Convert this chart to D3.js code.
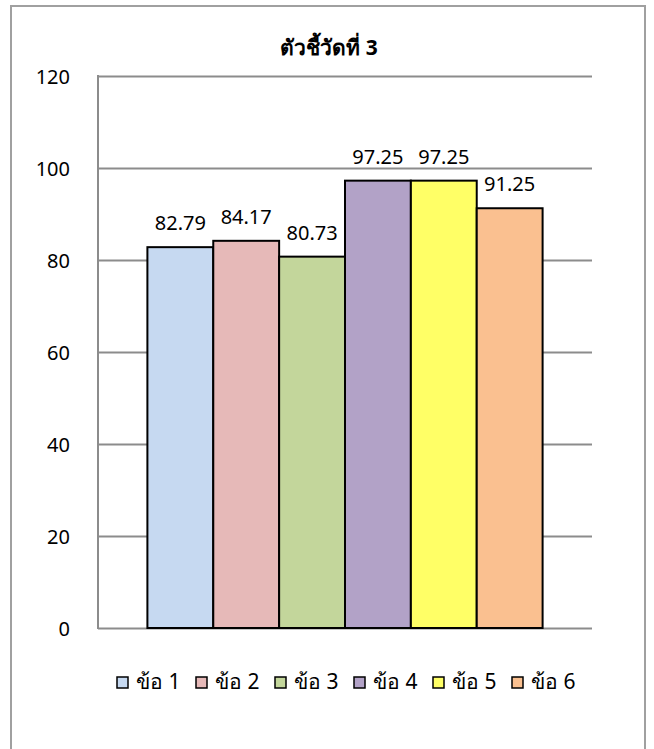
<!DOCTYPE html>
<html>
<head>
<meta charset="utf-8">
<script src="https://cdn.jsdelivr.net/npm/d3@7/dist/d3.min.js"></script>
<style>
    body { margin: 0; background: #fff; }
    svg text { font-family: "Noto Sans", "Liberation Sans", sans-serif; fill: #000; }
</style>
</head>
<body>
<div id="chart"></div>
<script>
var title = "ตัวชี้วัดที่ 3";
var items = ["ข้อ 1", "ข้อ 2", "ข้อ 3", "ข้อ 4", "ข้อ 5", "ข้อ 6"];
var scores = [82.79, 84.17, 80.73, 97.25, 97.25, 91.25];
var colors = ["#c6d9f1", "#e6b9b8", "#c3d69b", "#b2a2c7", "#ffff66", "#fac090"];
var yTicks = [0, 20, 40, 60, 80, 100, 120];

var W = 654, H = 749;
var plot = { left: 98, right: 592, top: 76, bottom: 628 };

var svg = d3.select("#chart").append("svg")
    .attr("width", W)
    .attr("height", H);

// chart frame
svg.append("rect")
    .attr("x", 11).attr("y", 6)
    .attr("width", 634).attr("height", 760)
    .attr("fill", "#fff")
    .attr("stroke", "#a0a0a0")
    .attr("stroke-width", 2);

svg.append("text")
    .attr("x", 329).attr("y", 55)
    .attr("text-anchor", "middle")
    .style("font-size", "21px")
    .style("font-weight", "bold")
    .text(title);

var x = d3.scaleBand()
    .domain(items)
    .range([plot.left, plot.right])
    .paddingInner(0)
    .paddingOuter(0.75);

var y = d3.scaleLinear()
    .domain([0, 120])
    .range([plot.bottom, plot.top]);

// gridlines + tick labels
var yAxis = d3.axisLeft(y)
    .tickValues(yTicks)
    .tickSize(-(plot.right - plot.left))
    .tickPadding(28)
    .tickFormat(d3.format("d"));

var gy = svg.append("g")
    .attr("transform", "translate(" + plot.left + ",0)")
    .call(yAxis);

gy.select(".domain").remove();
gy.selectAll(".tick line")
    .attr("stroke", "#8c8c8c")
    .attr("stroke-width", 2);
gy.selectAll(".tick text")
    .attr("font-family", null)
    .style("font-size", "20px")
    .attr("dy", "0.36em");

svg.append("line")
    .attr("x1", plot.left).attr("x2", plot.left)
    .attr("y1", y(120) - 1).attr("y2", y(0) + 1)
    .attr("stroke", "#8c8c8c")
    .attr("stroke-width", 2);

// bars
svg.selectAll("rect.bar")
    .data(scores)
    .enter()
    .append("rect")
    .attr("class", "bar")
    .attr("x", function (d, i) { return x(items[i]); })
    .attr("y", function (d) { return y(d); })
    .attr("width", x.bandwidth())
    .attr("height", function (d) { return y(0) - y(d); })
    .attr("fill", function (d, i) { return colors[i]; })
    .attr("stroke", "#000")
    .attr("stroke-width", 2);

svg.selectAll("text.lbl")
    .data(scores)
    .enter()
    .append("text")
    .attr("class", "lbl")
    .attr("x", function (d, i) { return x(items[i]) + x.bandwidth() / 2; })
    .attr("y", function (d) { return y(d) - 17; })
    .attr("text-anchor", "middle")
    .style("font-size", "20px")
    .text(function (d) { return d.toFixed(2); });

// legend
var legend = svg.selectAll("g.leg")
    .data(items)
    .enter()
    .append("g")
    .attr("class", "leg")
    .attr("transform", function (d, i) { return "translate(" + (117 + i * 79) + ",677)"; });

legend.append("rect")
    .attr("width", 11).attr("height", 11)
    .attr("fill", function (d, i) { return colors[i]; })
    .attr("stroke", "#000")
    .attr("stroke-width", 1.5);

legend.append("text")
    .attr("x", 19).attr("y", 12)
    .style("font-size", "21px")
    .text(function (d) { return d; });
</script>
</body>
</html>
